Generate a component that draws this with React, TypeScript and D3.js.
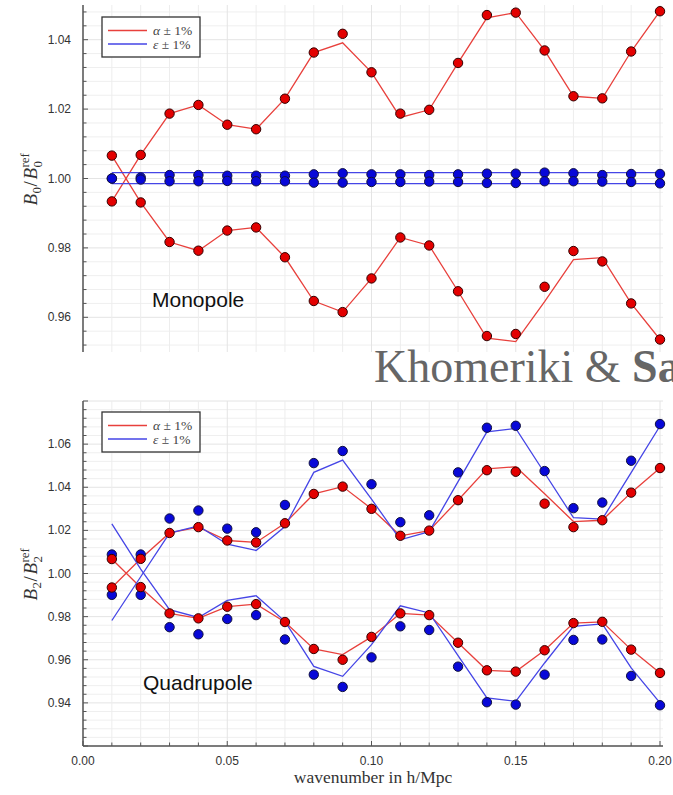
import React from "react";
import * as d3 from "d3";

const kVals = [0.01, 0.02, 0.03, 0.04, 0.05, 0.06, 0.07, 0.08, 0.09, 0.1, 0.11, 0.12, 0.13, 0.14, 0.15, 0.16, 0.17, 0.18, 0.19, 0.2];

// Monopole
const monoAlphaPlusLine = [0.9934, 1.0068, 1.0187, 1.0212, 1.0155, 1.0142, 1.023, 1.0363, 1.0391, 1.0306, 1.0176, 1.0198, 1.0333, 1.0463, 1.0478, 1.0369, 1.0237, 1.0231, 1.0366, 1.0482];
const monoAlphaMinusLine = [1.0066, 0.9931, 0.9817, 0.9792, 0.985, 0.9859, 0.9773, 0.9647, 0.9615, 0.9712, 0.983, 0.9807, 0.9675, 0.954, 0.953, 0.9645, 0.9766, 0.9772, 0.964, 0.9536];
const monoAlphaPlusPts = [1.0066, 1.0068, 1.0187, 1.0212, 1.0155, 1.0142, 1.023, 1.0363, 1.0417, 1.0306, 1.0187, 1.0198, 1.0333, 1.0471, 1.0478, 1.0369, 1.0237, 1.0231, 1.0366, 1.0482];
const monoAlphaMinusPts = [0.9934, 0.9931, 0.9817, 0.9792, 0.985, 0.9859, 0.9773, 0.9647, 0.9615, 0.9712, 0.983, 0.9807, 0.9675, 0.9546, 0.9552, 0.9688, 0.9791, 0.9761, 0.964, 0.9536];
const monoEpsPlusLine = [1.0017, 1.0017, 1.0017, 1.0017, 1.0017, 1.0017, 1.0017, 1.0017, 1.0017, 1.0017, 1.0017, 1.0017, 1.0017, 1.0017, 1.0017, 1.0017, 1.0017, 1.0017, 1.0017, 1.0017];
const monoEpsMinusLine = [0.9985, 0.9985, 0.9985, 0.9985, 0.9985, 0.9985, 0.9985, 0.9985, 0.9985, 0.9985, 0.9985, 0.9985, 0.9985, 0.9985, 0.9985, 0.9985, 0.9985, 0.9985, 0.9985, 0.9985];
const monoEpsPlusPts = [1.0, 1.0003, 1.001, 1.001, 1.0008, 1.0008, 1.0008, 1.0012, 1.0015, 1.0012, 1.0012, 1.001, 1.0012, 1.0014, 1.0014, 1.0017, 1.0015, 1.001, 1.0013, 1.0013];
const monoEpsMinusPts = [1.0, 0.9997, 0.9992, 0.9992, 0.9993, 0.9992, 0.9992, 0.9988, 0.9988, 0.999, 0.999, 0.9991, 0.999, 0.9987, 0.9987, 0.9992, 0.9992, 0.9991, 0.999, 0.9986];

// Quadrupole
const quadAlphaPlusLine = [0.9935, 1.0068, 1.0188, 1.0215, 1.0153, 1.0144, 1.0233, 1.0369, 1.0403, 1.03, 1.0175, 1.0199, 1.034, 1.0485, 1.0495, 1.037, 1.0241, 1.0247, 1.0375, 1.0489];
const quadAlphaMinusLine = [1.0067, 0.9935, 0.9815, 0.9792, 0.9846, 0.9858, 0.9775, 0.965, 0.9624, 0.9706, 0.9815, 0.9807, 0.9679, 0.9551, 0.9545, 0.9644, 0.977, 0.9776, 0.9647, 0.9539];
const quadAlphaPlusPts = [1.0067, 1.0068, 1.0188, 1.0215, 1.0153, 1.0144, 1.0233, 1.0369, 1.0403, 1.03, 1.0175, 1.0199, 1.034, 1.0479, 1.0472, 1.0324, 1.0215, 1.0247, 1.0375, 1.0489];
const quadAlphaMinusPts = [0.9935, 0.9937, 0.9815, 0.9792, 0.9846, 0.9858, 0.9775, 0.965, 0.96, 0.9706, 0.9815, 0.9807, 0.9679, 0.9551, 0.9545, 0.9644, 0.977, 0.9776, 0.9647, 0.9539];
const quadEpsPlusLine = [0.9782, 0.9985, 1.0187, 1.0221, 1.0136, 1.0107, 1.0218, 1.0469, 1.0526, 1.0345, 1.0156, 1.0194, 1.0426, 1.0657, 1.0673, 1.0466, 1.0259, 1.0252, 1.0468, 1.0684];
const quadEpsMinusLine = [1.023, 1.002, 0.9832, 0.9796, 0.9875, 0.9897, 0.9778, 0.9569, 0.9523, 0.967, 0.985, 0.9817, 0.9619, 0.9423, 0.9407, 0.9585, 0.9755, 0.9766, 0.9562, 0.94];
const quadEpsPlusPts = [1.0088, 1.0088, 1.0255, 1.0292, 1.0208, 1.0191, 1.0318, 1.0512, 1.0568, 1.0414, 1.0238, 1.027, 1.0469, 1.0676, 1.0685, 1.0475, 1.0303, 1.0329, 1.0523, 1.0693];
const quadEpsMinusPts = [0.9901, 0.9901, 0.9751, 0.9718, 0.9789, 0.9807, 0.9694, 0.9531, 0.9474, 0.9611, 0.9755, 0.9738, 0.9568, 0.9403, 0.9392, 0.9531, 0.9692, 0.9694, 0.9525, 0.9389];

const xTickLabels = ["0.00", "0.05", "0.10", "0.15", "0.20"];
const monoYTickLabels = ["0.96", "0.98", "1.00", "1.02", "1.04"];
const quadYTickLabels = ["0.94", "0.96", "0.98", "1.00", "1.02", "1.04", "1.06"];

const W = 673;
const H = 795;
const LEFT = 83;
const RIGHT = 663;

const RED_LINE = "#e8403c";
const BLUE_LINE = "#4545e6";
const RED_FILL = "#e30000";
const BLUE_FILL = "#0808d8";

const x = d3.scaleLinear().domain([0, 0.2]).range([LEFT, 660]);
const SANS = "'Liberation Sans', Arial, sans-serif";
const SERIF = "'Liberation Serif', 'Times New Roman', serif";

type PanelProps = {
  y: d3.ScaleLinear<number, number>;
  domain: [number, number];
  tickLabels: string[];
  alphaPlusLine: number[];
  alphaMinusLine: number[];
  alphaPlusPts: number[];
  alphaMinusPts: number[];
  epsPlusLine: number[];
  epsMinusLine: number[];
  epsPlusPts: number[];
  epsMinusPts: number[];
  name: string;
  nameX: number;
  nameY: number;
  legendTop: number;
  sub: string;
  showX: boolean;
};

function Panel(p: PanelProps) {
  const { y } = p;
  const [d0, d1] = p.domain;
  const top = y(d1);
  const bottom = y(d0);
  const minor = d3.range(Math.round(d0 * 250), Math.round(d1 * 250) + 1).map((v) => v / 250);
  const xMinor = d3.range(0, 21).map((v) => v / 100);
  const line = d3
    .line<number>()
    .x((_, i) => x(kVals[i]))
    .y((d) => y(d));
  const lg = p.legendTop;
  const labelCx = 37;
  const labelCy = (top + bottom) / 2;
  return (
    <g>
      {/* grid */}
      {minor.map((v, i) => (
        <line key={"hg" + i} x1={LEFT} x2={RIGHT} y1={y(v)} y2={y(v)} stroke={Math.abs(v * 50 - Math.round(v * 50)) < 1e-6 ? "#e4e4e4" : "#efefef"} strokeWidth={1} />
      ))}
      {xMinor.map((v, i) => (
        <line key={"vg" + i} x1={x(v)} x2={x(v)} y1={top} y2={bottom} stroke={i % 5 === 0 ? "#e4e4e4" : "#ededed"} strokeWidth={1} />
      ))}
      {/* left axis */}
      <line x1={LEFT} x2={LEFT} y1={top} y2={bottom} stroke="#555" strokeWidth={1.5} />
      {minor.map((v, i) => (
        <line key={"yt" + i} x1={LEFT} x2={LEFT + (Math.abs(v * 50 - Math.round(v * 50)) < 1e-6 ? 5 : 3.5)} y1={y(v)} y2={y(v)} stroke="#555" strokeWidth={1} />
      ))}
      {p.tickLabels.map((t) => (
        <text key={t} x={LEFT - 12} y={y(+t) + 4} textAnchor="end" fontFamily={SANS} fontSize={12} fill="#333">
          {t}
        </text>
      ))}
      {p.showX && (
        <g>
          <line x1={LEFT} x2={RIGHT} y1={bottom} y2={bottom} stroke="#555" strokeWidth={1.5} />
          {xMinor.map((v, i) => (
            <line key={"xt" + i} x1={x(v)} x2={x(v)} y1={bottom} y2={bottom - (i % 5 === 0 ? 5 : 3.5)} stroke="#555" strokeWidth={1} />
          ))}
          {xTickLabels.map((t) => (
            <text key={t} x={x(+t)} y={bottom + 19} textAnchor="middle" fontFamily={SANS} fontSize={12} fill="#333">
              {t}
            </text>
          ))}
          <text x={373} y={bottom + 37} textAnchor="middle" fontFamily={SERIF} fontSize={17.5} fill="#333">
            wavenumber in h/Mpc
          </text>
        </g>
      )}
      {/* y label */}
      <g transform={`translate(${labelCx},${labelCy}) rotate(-90)`} fontFamily={SERIF} fill="#333">
        <text x={-27} y={0} fontSize={19} fontStyle="italic">B</text>
        <text x={-15} y={4} fontSize={13}>{p.sub}</text>
        <text x={-8} y={0} fontSize={19}>/</text>
        <text x={-1} y={0} fontSize={19} fontStyle="italic">B</text>
        <text x={11} y={-8} fontSize={13}>ref</text>
        <text x={11} y={5} fontSize={13}>{p.sub}</text>
      </g>
      {/* lines */}
      <path d={line(p.alphaPlusLine) || ""} fill="none" stroke={RED_LINE} strokeWidth={1.3} />
      <path d={line(p.alphaMinusLine) || ""} fill="none" stroke={RED_LINE} strokeWidth={1.3} />
      <path d={line(p.epsPlusLine) || ""} fill="none" stroke={BLUE_LINE} strokeWidth={1.3} />
      <path d={line(p.epsMinusLine) || ""} fill="none" stroke={BLUE_LINE} strokeWidth={1.3} />
      {/* points */}
      {[p.epsPlusPts, p.epsMinusPts].map((arr, j) =>
        arr.map((v, i) => <circle key={"b" + j + "-" + i} cx={x(kVals[i])} cy={y(v)} r={4.7} fill={BLUE_FILL} stroke="#101040" strokeWidth={1} />)
      )}
      {[p.alphaPlusPts, p.alphaMinusPts].map((arr, j) =>
        arr.map((v, i) => <circle key={"r" + j + "-" + i} cx={x(kVals[i])} cy={y(v)} r={4.7} fill={RED_FILL} stroke="#300" strokeWidth={1} />)
      )}
      {/* legend */}
      <rect x={102} y={lg} width={98} height={40} fill="#fff" stroke="#333" strokeWidth={1.3} />
      <line x1={108} x2={147} y1={lg + 13.5} y2={lg + 13.5} stroke={RED_LINE} strokeWidth={1.3} />
      <line x1={108} x2={147} y1={lg + 27} y2={lg + 27} stroke={BLUE_LINE} strokeWidth={1.3} />
      <text x={153} y={lg + 18} fontFamily={SERIF} fontSize={13.5} fill="#444">
        <tspan fontStyle="italic">α</tspan>
        <tspan> ± 1%</tspan>
      </text>
      <text x={153} y={lg + 31.5} fontFamily={SERIF} fontSize={13.5} fill="#444">
        <tspan fontStyle="italic">ε</tspan>
        <tspan> ± 1%</tspan>
      </text>
      <text x={p.nameX} y={p.nameY} fontFamily={SANS} fontSize={21} fill="#111">
        {p.name}
      </text>
    </g>
  );
}

export default function App() {
  const yTop = d3.scaleLinear().domain([0.95, 1.05]).range([352, 5]);
  const yBot = d3.scaleLinear().domain([0.92, 1.08]).range([746, 401]);
  return (
    <svg width={W} height={H} style={{ position: "absolute", left: 0, top: 0, background: "#fff" }}>
      <rect x={0} y={0} width={W} height={H} fill="#fff" />
      <Panel
        y={yTop}
        domain={[0.95, 1.05]}
        tickLabels={monoYTickLabels}
        alphaPlusLine={monoAlphaPlusLine}
        alphaMinusLine={monoAlphaMinusLine}
        alphaPlusPts={monoAlphaPlusPts}
        alphaMinusPts={monoAlphaMinusPts}
        epsPlusLine={monoEpsPlusLine}
        epsMinusLine={monoEpsMinusLine}
        epsPlusPts={monoEpsPlusPts}
        epsMinusPts={monoEpsMinusPts}
        name="Monopole"
        nameX={152}
        nameY={307}
        legendTop={17}
        sub="0"
        showX={false}
      />
      <Panel
        y={yBot}
        domain={[0.92, 1.08]}
        tickLabels={quadYTickLabels}
        alphaPlusLine={quadAlphaPlusLine}
        alphaMinusLine={quadAlphaMinusLine}
        alphaPlusPts={quadAlphaPlusPts}
        alphaMinusPts={quadAlphaMinusPts}
        epsPlusLine={quadEpsPlusLine}
        epsMinusLine={quadEpsMinusLine}
        epsPlusPts={quadEpsPlusPts}
        epsMinusPts={quadEpsMinusPts}
        name="Quadrupole"
        nameX={143}
        nameY={690}
        legendTop={412}
        sub="2"
        showX={true}
      />
      <text x={374} y={382} fontFamily={SERIF} fontSize={46} fill="#666">
        Khomeriki &amp; <tspan fontWeight="bold">Samushia</tspan>
      </text>
    </svg>
  );
}
